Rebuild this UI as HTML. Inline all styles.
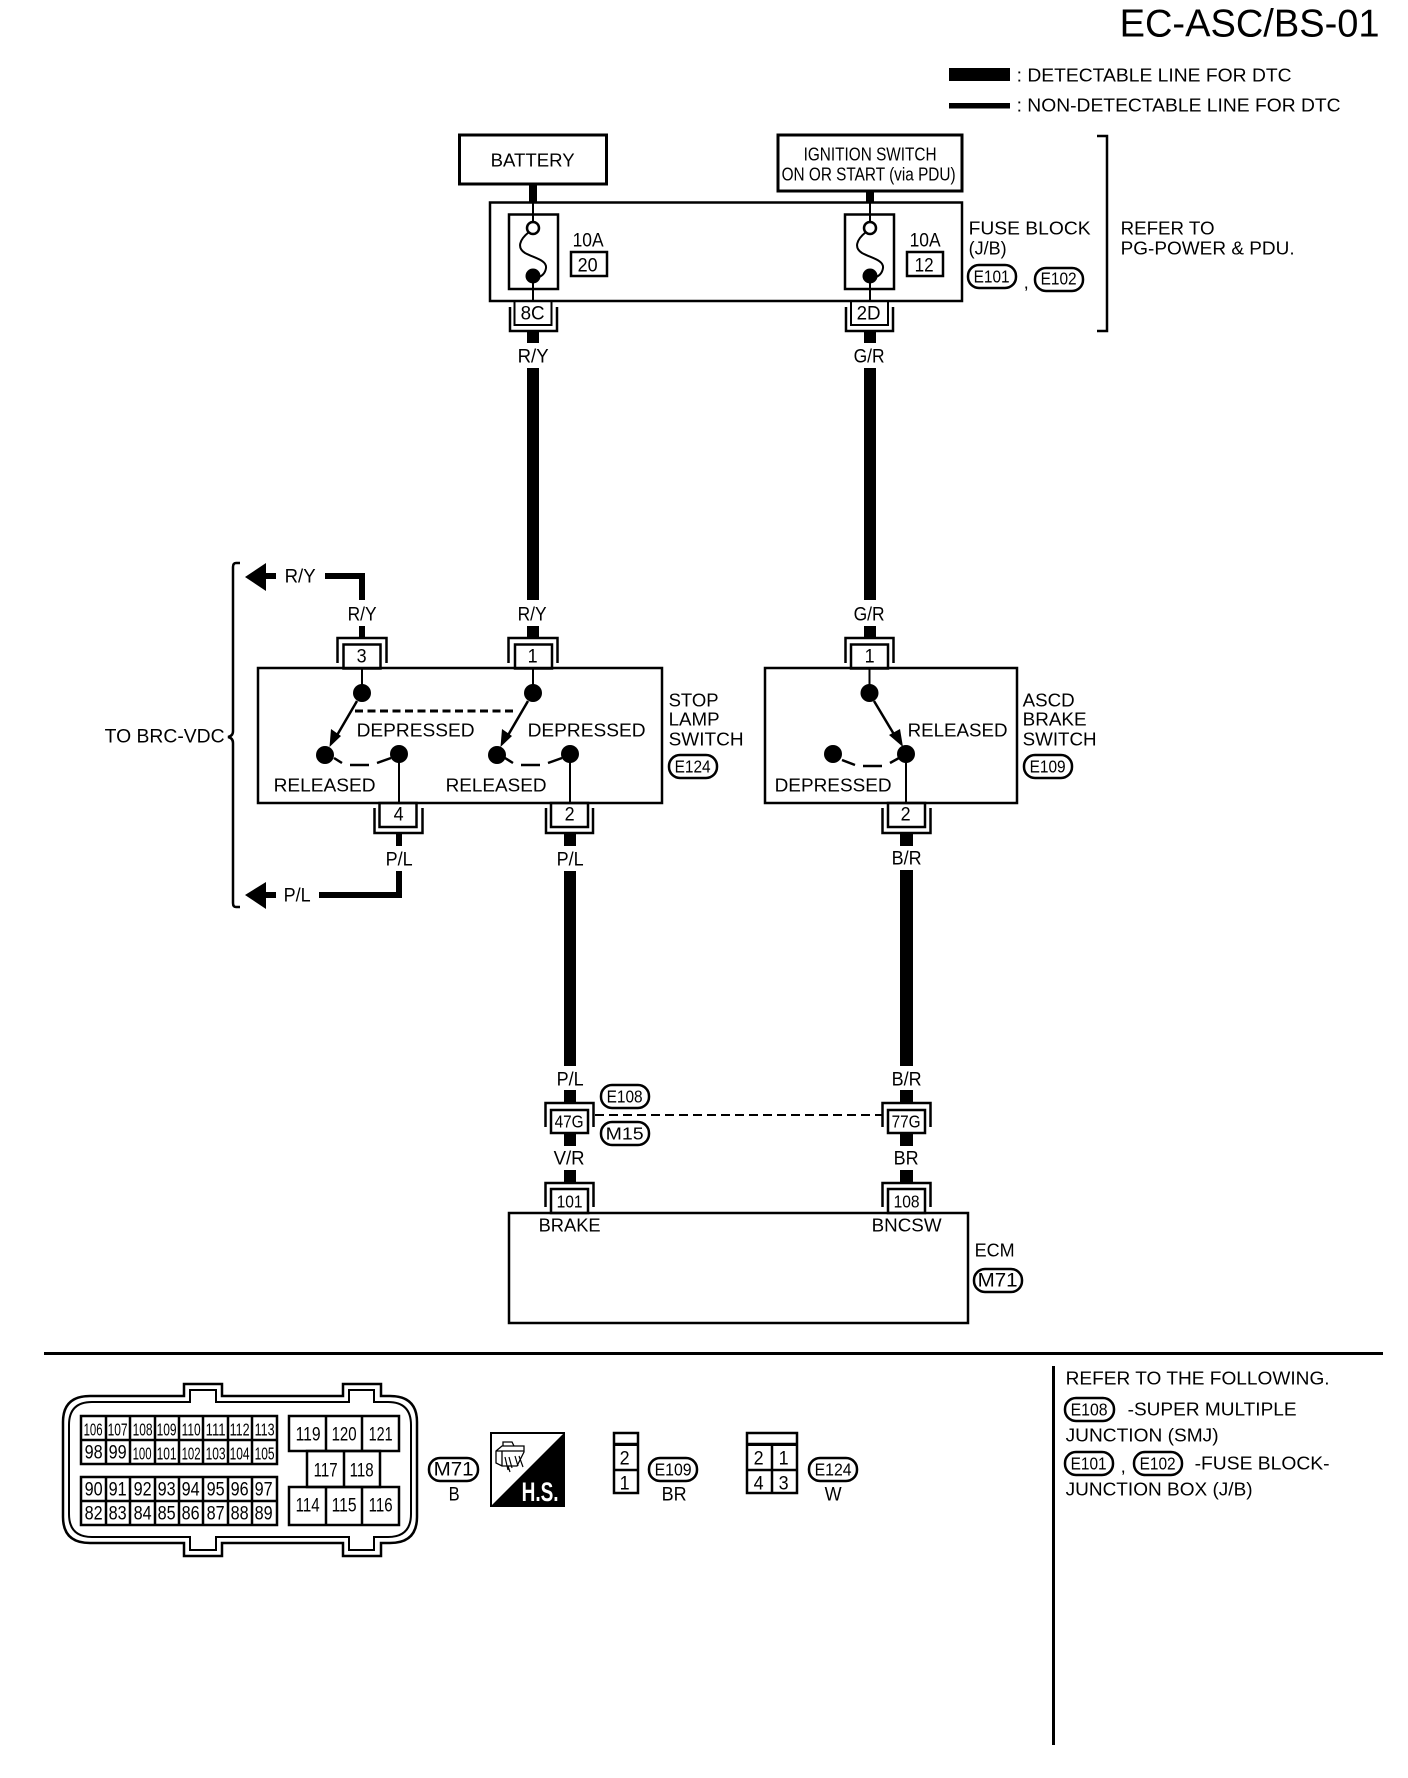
<!DOCTYPE html>
<html><head><meta charset="utf-8"><title>EC-ASC/BS-01</title>
<style>
html,body{margin:0;padding:0;background:#fff;width:1408px;height:1778px;overflow:hidden}
svg{display:block}
text{font-family:"Liberation Sans",sans-serif;font-size:18.5px;fill:#000;text-anchor:start;transform:translate(-.4px,-.6px)}
.s{font-size:17.5px}.m{font-size:19px}
.l{fill:none;stroke:#000;stroke-width:2.5}
.t{fill:none;stroke:#000;stroke-width:2}
.b{fill:#fff;stroke:#000;stroke-width:2.5}
.o{fill:#fff;stroke:#000;stroke-width:2.5}
</style></head><body>
<svg width="1408" height="1778" viewBox="0 0 1408 1778" xmlns="http://www.w3.org/2000/svg">
<rect width="1408" height="1778" fill="#fff"/>
<text x="1120" y="37" style="font-size:39px" textLength="260" lengthAdjust="spacingAndGlyphs">EC-ASC/BS-01</text>
<rect x="949" y="68" width="61" height="13"/><rect x="949" y="103" width="61" height="5.5"/>
<text x="1017" y="82" textLength="275" lengthAdjust="spacingAndGlyphs">: DETECTABLE LINE FOR DTC</text>
<text x="1017" y="112" textLength="324" lengthAdjust="spacingAndGlyphs">: NON-DETECTABLE LINE FOR DTC</text>

<!-- top power sources -->
<rect x="529" y="184" width="8" height="18"/><rect x="866" y="191" width="8" height="11"/>
<rect class="b" x="459.500" y="135" width="147" height="49" style="stroke-width:3"/>
<rect class="b" x="778" y="135" width="184" height="56" style="stroke-width:3"/>
<text x="491" y="167" textLength="84" lengthAdjust="spacingAndGlyphs">BATTERY</text>
<text x="804" y="161" textLength="133" lengthAdjust="spacingAndGlyphs">IGNITION SWITCH</text>
<text x="782" y="181" textLength="174" lengthAdjust="spacingAndGlyphs">ON OR START (via PDU)</text>

<!-- fuse block -->
<rect class="l" x="490" y="202.500" width="472" height="98.500"/>
<rect class="l" x="509" y="214.500" width="49" height="74.500"/>
<rect class="l" x="845" y="214.500" width="49" height="74.500"/>
<path class="t" d="M533 202V222M533 276V301M870 202V222M870 276V301"/>
<circle class="t" cx="533" cy="228" r="6" style="stroke-width:2.5"/><circle class="t" cx="870" cy="228" r="6" style="stroke-width:2.500"/>
<circle cx="533" cy="276" r="7.500"/><circle cx="870" cy="276" r="7.500"/>
<path class="t" d="M529 232C519 240 517 248 525 253C534 258 547 260 546 268C545 275 540 277 537 278"/>
<path class="t" d="M866 232C856 240 854 248 862 253C871 258 884 260 883 268C882 275 877 277 874 278"/>
<text x="573" y="247" class="m" textLength="31" lengthAdjust="spacingAndGlyphs">10A</text>
<rect class="l" x="571" y="252" width="36" height="24"/>
<text x="578" y="272" class="m" textLength="20" lengthAdjust="spacingAndGlyphs">20</text>
<text x="910" y="247" class="m" textLength="31" lengthAdjust="spacingAndGlyphs">10A</text>
<rect class="l" x="907" y="252" width="36" height="24"/>
<text x="915" y="272" class="m" textLength="19" lengthAdjust="spacingAndGlyphs">12</text>
<text x="969" y="235" textLength="122" lengthAdjust="spacingAndGlyphs">FUSE BLOCK</text>
<text x="969" y="255" textLength="38" lengthAdjust="spacingAndGlyphs">(J/B)</text>
<rect class="o" x="968" y="265" width="48" height="23" rx="11"/>
<text x="974" y="283" class="s" textLength="36" lengthAdjust="spacingAndGlyphs">E101</text>
<text x="1024" y="289">,</text>
<rect class="o" x="1035" y="268" width="48" height="23" rx="11"/>
<text x="1041" y="285" class="s" textLength="36" lengthAdjust="spacingAndGlyphs">E102</text>
<path class="l" d="M1097 136H1107V331H1097"/>
<text x="1121" y="235" textLength="94" lengthAdjust="spacingAndGlyphs">REFER TO</text>
<text x="1121" y="255" textLength="174" lengthAdjust="spacingAndGlyphs">PG-POWER &amp; PDU.</text>

<!-- fuse connectors -->
<rect class="t" x="514.500" y="301" width="37" height="24"/>
<path class="l" d="M510 307V331H557V307"/>
<text x="521" y="320" class="m" textLength="24" lengthAdjust="spacingAndGlyphs">8C</text>
<rect class="t" x="851" y="301" width="37" height="24"/>
<path class="l" d="M846 307V331H893V307"/>
<text x="857" y="320" class="m" textLength="24" lengthAdjust="spacingAndGlyphs">2D</text>

<!-- long wires -->
<rect x="527" y="332" width="12" height="11"/><rect x="864" y="332" width="12" height="11"/>
<text x="518" y="363" class="m" textLength="31" lengthAdjust="spacingAndGlyphs">R/Y</text>
<text x="854" y="363" class="m" textLength="31" lengthAdjust="spacingAndGlyphs">G/R</text>
<rect x="527" y="368" width="12" height="232"/><rect x="864" y="368" width="12" height="232"/>
<text x="518" y="621" class="m" textLength="29" lengthAdjust="spacingAndGlyphs">R/Y</text>
<text x="348" y="621" class="m" textLength="29" lengthAdjust="spacingAndGlyphs">R/Y</text>
<text x="854" y="621" class="m" textLength="31" lengthAdjust="spacingAndGlyphs">G/R</text>
<rect x="527" y="626" width="12" height="11"/><rect x="864" y="626" width="12" height="11"/><rect x="359" y="626" width="6" height="11"/>

<!-- brace and arrows -->
<path class="l" d="M240 563H236Q233 563 233 567V731Q233 736 228 737Q233 738 233 743V903Q233 907 236 907H240"/>
<text x="105" y="743" class="m" textLength="120" lengthAdjust="spacingAndGlyphs">TO BRC-VDC</text>
<path d="M245 577L266 563V573H276V579H266V591Z"/>
<text x="285" y="583" class="m" textLength="31" lengthAdjust="spacingAndGlyphs">R/Y</text>
<path d="M325 573H365V600H359V579H325Z"/>
<path d="M245 895L266 882V892H276V898H266V909Z"/>
<text x="284" y="902" class="m" textLength="27" lengthAdjust="spacingAndGlyphs">P/L</text>
<path d="M319 892H396V871H402V898H319Z"/>

<!-- stop lamp switch -->
<path class="t" d="M337.500 663V638H386.500V663" style="stroke-width:2.500"/>
<path class="t" d="M508.500 663V638H557.500V663" style="stroke-width:2.500"/>
<rect class="t" x="343.500" y="644.500" width="37" height="24" style="stroke-width:2.500"/>
<rect class="t" x="515" y="644.500" width="37" height="24" style="stroke-width:2.500"/>
<text x="357" y="663" class="m" textLength="10" lengthAdjust="spacingAndGlyphs">3</text>
<text x="528" y="663" class="m" textLength="10" lengthAdjust="spacingAndGlyphs">1</text>
<rect class="l" x="258" y="668" width="404" height="135"/>
<path class="t" d="M362 668V693M533 668V693M399 754V803M570 754V803"/>
<circle cx="362" cy="693" r="9"/><circle cx="533" cy="693" r="9"/>
<circle cx="325" cy="755" r="9"/><circle cx="399" cy="754" r="9"/>
<circle cx="497" cy="755" r="9"/><circle cx="570" cy="754" r="9"/>
<path class="l" d="M357 701L336 737M528 701L507 737"/>
<path d="M329.500 747L331 729L341 736ZM500.500 747L502 729L512 736Z"/>
<path d="M355 711H517" fill="none" stroke="#000" stroke-width="3" stroke-dasharray="8 4.500"/>
<path class="l" d="M334 758L342 763M350 765H369M377 763L391 758M505 758L513 763M521 765H540M548 763L562 758"/>
<text x="357" y="737" textLength="118" lengthAdjust="spacingAndGlyphs">DEPRESSED</text>
<text x="528" y="737" textLength="118" lengthAdjust="spacingAndGlyphs">DEPRESSED</text>
<text x="274" y="792" textLength="102" lengthAdjust="spacingAndGlyphs">RELEASED</text>
<text x="446" y="792" textLength="101" lengthAdjust="spacingAndGlyphs">RELEASED</text>
<text x="669" y="707" textLength="50" lengthAdjust="spacingAndGlyphs">STOP</text>
<text x="669" y="726" textLength="51" lengthAdjust="spacingAndGlyphs">LAMP</text>
<text x="669" y="746" textLength="75" lengthAdjust="spacingAndGlyphs">SWITCH</text>
<rect class="o" x="669" y="755" width="48" height="23" rx="11"/>
<text x="675" y="773" class="s" textLength="36" lengthAdjust="spacingAndGlyphs">E124</text>
<rect class="t" x="379.500" y="803" width="37" height="24" style="stroke-width:2.500"/>
<path class="l" d="M374.500 808V833H422.500V808"/>
<rect class="t" x="551" y="803" width="37" height="24" style="stroke-width:2.500"/>
<path class="l" d="M546 808V833H593V808"/>
<text x="394" y="821" class="m" textLength="10" lengthAdjust="spacingAndGlyphs">4</text>
<text x="565" y="821" class="m" textLength="10" lengthAdjust="spacingAndGlyphs">2</text>
<rect x="396" y="834" width="6" height="12"/><rect x="564" y="834" width="12" height="12"/>
<text x="386" y="866" class="m" textLength="27" lengthAdjust="spacingAndGlyphs">P/L</text>
<text x="557" y="866" class="m" textLength="27" lengthAdjust="spacingAndGlyphs">P/L</text>
<rect x="564" y="871" width="12" height="195"/>

<!-- ascd switch -->
<path class="l" d="M845.500 663V638H893.500V663"/>
<rect class="t" x="851" y="644.500" width="37" height="24" style="stroke-width:2.500"/>
<text x="865" y="663" class="m" textLength="10" lengthAdjust="spacingAndGlyphs">1</text>
<rect class="l" x="765" y="668" width="252" height="135"/>
<path class="t" d="M869.500 668V693M906 754V803"/>
<circle cx="869.500" cy="693" r="9"/><circle cx="906" cy="754" r="9"/><circle cx="833" cy="754" r="9"/>
<path class="l" d="M874 701L895 736"/>
<path d="M903 747L889 735L900 729Z"/>
<path class="l" d="M842 760L855 765M863 766H882M890 763L899 758"/>
<text x="908" y="737" textLength="100" lengthAdjust="spacingAndGlyphs">RELEASED</text>
<text x="775" y="792" textLength="117" lengthAdjust="spacingAndGlyphs">DEPRESSED</text>
<text x="1023" y="707" textLength="52" lengthAdjust="spacingAndGlyphs">ASCD</text>
<text x="1023" y="726" textLength="64" lengthAdjust="spacingAndGlyphs">BRAKE</text>
<text x="1023" y="746" textLength="74" lengthAdjust="spacingAndGlyphs">SWITCH</text>
<rect class="o" x="1024" y="755" width="48" height="23" rx="11"/>
<text x="1030" y="773" class="s" textLength="36" lengthAdjust="spacingAndGlyphs">E109</text>
<rect class="t" x="888" y="803" width="37" height="24" style="stroke-width:2.500"/>
<path class="l" d="M882.500 808V833H930.500V808"/>
<text x="901" y="821" class="m" textLength="10" lengthAdjust="spacingAndGlyphs">2</text>
<rect x="900" y="834" width="13" height="12"/>
<text x="892" y="865" class="m" textLength="30" lengthAdjust="spacingAndGlyphs">B/R</text>
<rect x="900" y="870" width="13" height="196"/>

<!-- junction -->
<text x="557" y="1086" class="m" textLength="27" lengthAdjust="spacingAndGlyphs">P/L</text>
<text x="892" y="1086" class="m" textLength="30" lengthAdjust="spacingAndGlyphs">B/R</text>
<rect x="564" y="1090" width="12" height="12"/><rect x="900" y="1090" width="13" height="12"/>
<path class="l" d="M545.500 1127V1103H593.500V1127"/>
<path class="l" d="M882.500 1127V1103H930.500V1127"/>
<rect class="l" x="551" y="1110" width="37" height="23" style="fill:#fff"/>
<rect class="l" x="888" y="1110" width="37" height="23" style="fill:#fff"/>
<text x="555" y="1128" class="s" textLength="29" lengthAdjust="spacingAndGlyphs">47G</text>
<text x="892" y="1128" class="s" textLength="29" lengthAdjust="spacingAndGlyphs">77G</text>
<path d="M595 1115H882" fill="none" stroke="#000" stroke-width="2" stroke-dasharray="9 5"/>
<rect class="o" x="601" y="1085" width="48" height="23" rx="11"/>
<text x="607" y="1103" class="s" textLength="36" lengthAdjust="spacingAndGlyphs">E108</text>
<rect class="o" x="601" y="1122" width="48" height="23" rx="11"/>
<text x="606" y="1140" class="s" textLength="38" lengthAdjust="spacingAndGlyphs">M15</text>
<rect x="564" y="1134" width="12" height="12"/><rect x="900" y="1134" width="13" height="12"/>
<text x="554" y="1165" class="m" textLength="31" lengthAdjust="spacingAndGlyphs">V/R</text>
<text x="894" y="1165" class="m" textLength="25" lengthAdjust="spacingAndGlyphs">BR</text>
<rect x="564" y="1170" width="12" height="12"/><rect x="900" y="1170" width="13" height="12"/>
<path class="l" d="M545.500 1207V1183H593.500V1207"/>
<path class="l" d="M882.500 1207V1183H930.500V1207"/>
<rect class="l" x="551" y="1189" width="37" height="24"/>
<rect class="l" x="888" y="1189" width="37" height="24"/>
<text x="557" y="1208" class="s" textLength="26" lengthAdjust="spacingAndGlyphs">101</text>
<text x="894" y="1208" class="s" textLength="26" lengthAdjust="spacingAndGlyphs">108</text>

<!-- ECM -->
<rect class="l" x="509" y="1213" width="459" height="110"/>
<text x="539" y="1232" textLength="62" lengthAdjust="spacingAndGlyphs">BRAKE</text>
<text x="872" y="1232" textLength="70" lengthAdjust="spacingAndGlyphs">BNCSW</text>
<text x="975" y="1257" textLength="40" lengthAdjust="spacingAndGlyphs">ECM</text>
<rect class="o" x="974" y="1269" width="48" height="23" rx="11"/>
<text x="978" y="1287" class="m" textLength="40" lengthAdjust="spacingAndGlyphs">M71</text>

<!-- separator -->
<rect x="44" y="1352" width="1339" height="3"/>
<rect x="1052" y="1366" width="3" height="379"/>

<!-- connector face -->
<path class="l" d="M90 1396H184V1384H222V1396H343V1384H381V1396H390Q417 1396 417 1422V1517Q417 1543 390 1543H381V1556H343V1543H222V1556H184V1543H90Q63 1543 63 1517V1422Q63 1396 90 1396Z"/>
<path class="t" d="M92 1402H190V1390H216V1402H349V1390H374V1402H388Q411 1402 411 1425V1514Q411 1537 388 1537H374V1550H349V1537H216V1550H190V1537H92Q69 1537 69 1514V1425Q69 1402 92 1402Z"/>
<g fill="none" stroke="#000" stroke-width="2.500">
<path d="M81 1416H277V1464H81ZM81 1440H277M106 1416V1464M130 1416V1464M155 1416V1464M179 1416V1464M203 1416V1464M228 1416V1464M252 1416V1464"/>
<path d="M81 1477H277V1525H81ZM81 1501H277M106 1477V1525M130 1477V1525M155 1477V1525M179 1477V1525M203 1477V1525M228 1477V1525M252 1477V1525"/>
<path d="M289 1416H399V1451H289ZM326 1416V1451M362 1416V1451"/>
<path d="M307 1451H380V1487H307ZM344 1451V1487"/>
<path d="M289 1487H399V1525H289ZM326 1487V1525M362 1487V1525"/>
</g>
<g>
<text x="84" y="1436" class="s" textLength="19" lengthAdjust="spacingAndGlyphs">106</text>
<text x="108" y="1436" class="s" textLength="20" lengthAdjust="spacingAndGlyphs">107</text>
<text x="133" y="1436" class="s" textLength="20" lengthAdjust="spacingAndGlyphs">108</text>
<text x="157" y="1436" class="s" textLength="20" lengthAdjust="spacingAndGlyphs">109</text>
<text x="182" y="1436" class="s" textLength="19" lengthAdjust="spacingAndGlyphs">110</text>
<text x="206" y="1436" class="s" textLength="20" lengthAdjust="spacingAndGlyphs">111</text>
<text x="230" y="1436" class="s" textLength="20" lengthAdjust="spacingAndGlyphs">112</text>
<text x="255" y="1436" class="s" textLength="20" lengthAdjust="spacingAndGlyphs">113</text>
<text x="85" y="1459" class="m" textLength="18" lengthAdjust="spacingAndGlyphs">98</text>
<text x="109" y="1459" class="m" textLength="18" lengthAdjust="spacingAndGlyphs">99</text>
<text x="133" y="1460" class="s" textLength="19" lengthAdjust="spacingAndGlyphs">100</text>
<text x="157" y="1460" class="s" textLength="20" lengthAdjust="spacingAndGlyphs">101</text>
<text x="182" y="1460" class="s" textLength="19" lengthAdjust="spacingAndGlyphs">102</text>
<text x="206" y="1460" class="s" textLength="20" lengthAdjust="spacingAndGlyphs">103</text>
<text x="230" y="1460" class="s" textLength="20" lengthAdjust="spacingAndGlyphs">104</text>
<text x="255" y="1460" class="s" textLength="20" lengthAdjust="spacingAndGlyphs">105</text>
<text x="85" y="1496" class="m" textLength="18" lengthAdjust="spacingAndGlyphs">90</text>
<text x="109" y="1496" class="m" textLength="18" lengthAdjust="spacingAndGlyphs">91</text>
<text x="134" y="1496" class="m" textLength="18" lengthAdjust="spacingAndGlyphs">92</text>
<text x="158" y="1496" class="m" textLength="18" lengthAdjust="spacingAndGlyphs">93</text>
<text x="182" y="1496" class="m" textLength="18" lengthAdjust="spacingAndGlyphs">94</text>
<text x="207" y="1496" class="m" textLength="18" lengthAdjust="spacingAndGlyphs">95</text>
<text x="231" y="1496" class="m" textLength="18" lengthAdjust="spacingAndGlyphs">96</text>
<text x="255" y="1496" class="m" textLength="18" lengthAdjust="spacingAndGlyphs">97</text>
<text x="85" y="1520" class="m" textLength="18" lengthAdjust="spacingAndGlyphs">82</text>
<text x="109" y="1520" class="m" textLength="18" lengthAdjust="spacingAndGlyphs">83</text>
<text x="134" y="1520" class="m" textLength="18" lengthAdjust="spacingAndGlyphs">84</text>
<text x="158" y="1520" class="m" textLength="18" lengthAdjust="spacingAndGlyphs">85</text>
<text x="182" y="1520" class="m" textLength="18" lengthAdjust="spacingAndGlyphs">86</text>
<text x="207" y="1520" class="m" textLength="18" lengthAdjust="spacingAndGlyphs">87</text>
<text x="231" y="1520" class="m" textLength="18" lengthAdjust="spacingAndGlyphs">88</text>
<text x="255" y="1520" class="m" textLength="18" lengthAdjust="spacingAndGlyphs">89</text>
<text x="296" y="1441" class="m" textLength="25" lengthAdjust="spacingAndGlyphs">119</text>
<text x="332" y="1441" class="m" textLength="25" lengthAdjust="spacingAndGlyphs">120</text>
<text x="369" y="1441" class="m" textLength="24" lengthAdjust="spacingAndGlyphs">121</text>
<text x="314" y="1477" class="m" textLength="24" lengthAdjust="spacingAndGlyphs">117</text>
<text x="350" y="1477" class="m" textLength="24" lengthAdjust="spacingAndGlyphs">118</text>
<text x="296" y="1512" class="m" textLength="24" lengthAdjust="spacingAndGlyphs">114</text>
<text x="332" y="1512" class="m" textLength="25" lengthAdjust="spacingAndGlyphs">115</text>
<text x="369" y="1512" class="m" textLength="24" lengthAdjust="spacingAndGlyphs">116</text>
</g>
<rect class="o" x="429" y="1458" width="49" height="23" rx="11"/>
<text x="434" y="1476" class="m" textLength="40" lengthAdjust="spacingAndGlyphs">M71</text>
<text x="449" y="1501" class="m" textLength="11" lengthAdjust="spacingAndGlyphs">B</text>

<!-- H.S. -->
<rect x="491" y="1433" width="73" height="73" fill="#fff" stroke="#000" stroke-width="2"/>
<path d="M565 1432V1507H490Z"/>
<text x="522" y="1501.500" style="font-size:27px;font-weight:bold;fill:#fff" textLength="37" lengthAdjust="spacingAndGlyphs">H.S.</text>
<path d="M496 1451L502 1446H524V1452L517 1466H502L496 1463ZM496 1451H524M502 1451V1466M503 1446L503 1442H512L514 1446" fill="none" stroke="#000" stroke-width="1.300"/>
<path d="M505 1457L508 1470M509 1457L512 1468M515 1456L518 1466M519 1456L523 1467M508 1466L510 1472" fill="none" stroke="#000" stroke-width="1.200"/>

<!-- small connectors -->
<g fill="none" stroke="#000" stroke-width="2.500">
<rect x="614" y="1433" width="24" height="60"/><path d="M614 1444H638M614 1470H638"/>
<rect x="747" y="1433" width="50" height="60"/><path d="M747 1444H797M747 1470H797M772 1444V1493"/>
</g>
<path d="M614 1444H638V1446H614ZM747 1444H797V1446H747Z"/>
<text x="620" y="1465" class="m" textLength="10" lengthAdjust="spacingAndGlyphs">2</text>
<text x="620" y="1490" class="m" textLength="10" lengthAdjust="spacingAndGlyphs">1</text>
<text x="754" y="1465" class="m" textLength="10" lengthAdjust="spacingAndGlyphs">2</text>
<text x="779" y="1465" class="m" textLength="10" lengthAdjust="spacingAndGlyphs">1</text>
<text x="754" y="1490" class="m" textLength="10" lengthAdjust="spacingAndGlyphs">4</text>
<text x="779" y="1490" class="m" textLength="10" lengthAdjust="spacingAndGlyphs">3</text>
<rect class="o" x="649" y="1458" width="48" height="23" rx="11"/>
<text x="655" y="1476" class="s" textLength="37" lengthAdjust="spacingAndGlyphs">E109</text>
<text x="662" y="1501" class="m" textLength="25" lengthAdjust="spacingAndGlyphs">BR</text>
<rect class="o" x="809" y="1458" width="48" height="23" rx="11"/>
<text x="815" y="1476" class="s" textLength="37" lengthAdjust="spacingAndGlyphs">E124</text>
<text x="825" y="1501" class="m" textLength="17" lengthAdjust="spacingAndGlyphs">W</text>

<!-- notes -->
<text x="1066" y="1385" textLength="264" lengthAdjust="spacingAndGlyphs">REFER TO THE FOLLOWING.</text>
<rect class="o" x="1065" y="1398" width="49" height="23" rx="11"/>
<text x="1071" y="1416" class="s" textLength="37" lengthAdjust="spacingAndGlyphs">E108</text>
<text x="1128" y="1416" textLength="169" lengthAdjust="spacingAndGlyphs">-SUPER MULTIPLE</text>
<text x="1066" y="1442" textLength="153" lengthAdjust="spacingAndGlyphs">JUNCTION (SMJ)</text>
<rect class="o" x="1065" y="1452" width="48" height="23" rx="11"/>
<text x="1071" y="1470" class="s" textLength="36" lengthAdjust="spacingAndGlyphs">E101</text>
<text x="1121" y="1473">,</text>
<rect class="o" x="1134" y="1452" width="48" height="23" rx="11"/>
<text x="1140" y="1470" class="s" textLength="36" lengthAdjust="spacingAndGlyphs">E102</text>
<text x="1195" y="1470" textLength="135" lengthAdjust="spacingAndGlyphs">-FUSE BLOCK-</text>
<text x="1066" y="1496" textLength="187" lengthAdjust="spacingAndGlyphs">JUNCTION BOX (J/B)</text>
</svg>
</body></html>
